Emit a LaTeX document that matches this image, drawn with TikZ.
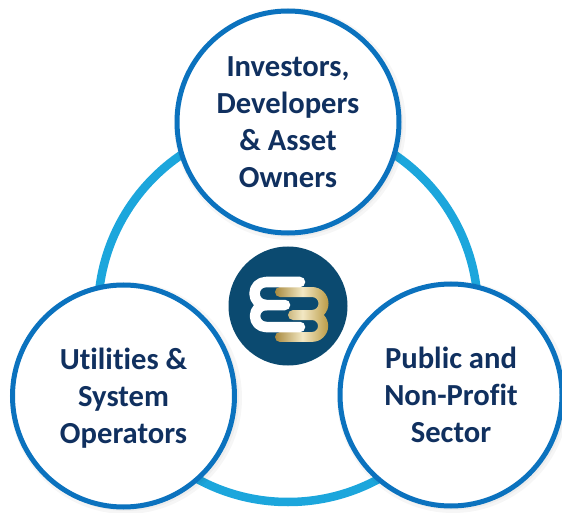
\documentclass[tikz,border=0pt]{standalone}
\usepackage{fontspec}
\setmainfont[Ligatures=NoCommon,Contextuals=NoAlternate]{Carlito}
\definecolor{ringblue}{HTML}{1CA6DC}
\definecolor{edgeblue}{HTML}{0B72BE}
\definecolor{inkblue}{HTML}{10305F}
\definecolor{logoblue}{HTML}{0B4A70}
\definecolor{golddark}{HTML}{A98A3F}
\definecolor{goldlight}{HTML}{F2E8C4}
\definecolor{goldright}{HTML}{B8963F}
\tikzset{
  actor/.style={circle,draw=edgeblue,line width=5pt,fill=white,minimum size=222pt,inner sep=0pt,
    align=center,text=inkblue,font=\fontsize{30.6}{37}\selectfont\bfseries},
  halo/.style={circle,fill=black,opacity=.035,minimum size=#1,inner sep=0pt},
  whitebar/.style={draw=white,line width=10.5pt,line cap=round,line join=round}
}
\begin{document}
\begin{tikzpicture}[x=1pt,y=1pt]
\useasboundingbox (0,0) rectangle (562,512);
\coordinate (ringc) at (288,200);
\draw[ringblue,line width=8.5pt] (ringc) circle[radius=190pt];
\foreach \hx/\hy in {290/388,126/114,453/115}{
  \node[halo=232pt] at (\hx,\hy) {};
  \node[halo=226pt] at (\hx,\hy) {};
}
\node[actor] (top) at (288,390) {Investors,\\Developers\\\& Asset\\Owners};
\node[actor] (left) at (123.5,116) {};
\node[align=center,text=inkblue,font=\fontsize{30.6}{37}\selectfont\bfseries,inner sep=0pt] (lefttext) at (123.5,114) {Utilities \&\\System\\Operators};
\node[actor] (right) at (451,117) {Public and\\Non-Profit\\Sector};
\node[circle,fill=logoblue,minimum size=119pt,inner sep=0pt] (logo) at (288,206) {};
\shade[left color=golddark,right color=goldright,middle color=goldlight]
  (280,225) -- (312,225) arc[start angle=90,end angle=-44,radius=16.5]
  arc[start angle=43,end angle=-90,radius=16] -- (280,170)
  arc[start angle=270,end angle=90,radius=5] -- (312,180)
  arc[start angle=-90,end angle=90,radius=6] -- (293,192)
  arc[start angle=270,end angle=90,radius=5] -- (312,202)
  arc[start angle=-90,end angle=90,radius=6.5] -- (280,215)
  arc[start angle=270,end angle=90,radius=5] -- cycle;
\draw[whitebar] (300,230) -- (266,230) arc[start angle=90,end angle=270,radius=11.5] -- (285,207);
\draw[whitebar] (266,207) arc[start angle=90,end angle=270,radius=11] -- (300,185);
\end{tikzpicture}
\end{document}
